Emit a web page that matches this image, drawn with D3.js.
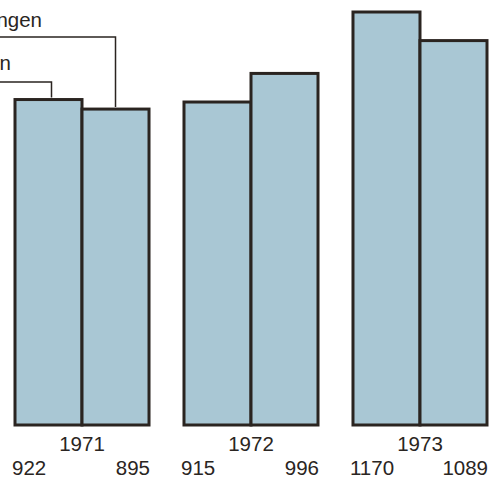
<!DOCTYPE html>
<html>
<head>
<meta charset="utf-8">
<script src="https://cdn.jsdelivr.net/npm/d3@7"></script>
<style>
  html, body { margin: 0; padding: 0; background: #ffffff; }
  svg { display: block; }
  text { font-family: "Liberation Sans", Arial, Helvetica, sans-serif; fill: #2a2522; }
</style>
</head>
<body>
<svg id="chart" width="490" height="480"></svg>
<script>
// Yearly totals, two series per year
const years = ["1971", "1972", "1973"];
const seriesNames = ["Einnahmen", "Aufwendungen"];
const einnahmen = [922, 915, 1170];
const aufwendungen = [895, 996, 1089];

const W = 490, H = 480;
const fontSize = 20.5;
const svg = d3.select("#chart");

const x = d3.scaleBand().domain(years).range([15, 487]).paddingInner(0.207).paddingOuter(0);
const xs = d3.scaleBand().domain(seriesNames).range([0, x.bandwidth()]).padding(0);
const y = d3.scaleLinear().domain([0, 1170]).range([425, 12]);

const rows = years.map((yr, i) => ({
  year: yr,
  values: [
    { key: seriesNames[0], value: einnahmen[i] },
    { key: seriesNames[1], value: aufwendungen[i] }
  ]
}));

const fill = "#a9c7d4";
const edge = "#2a2420";

// Bars
const g = svg.selectAll("g.year").data(rows).join("g")
  .attr("class", "year")
  .attr("transform", d => `translate(${x(d.year)},0)`);

g.selectAll("rect").data(d => d.values).join("rect")
  .attr("x", d => xs(d.key))
  .attr("y", d => y(d.value))
  .attr("width", xs.bandwidth())
  .attr("height", d => y(0) - y(d.value))
  .attr("fill", fill)
  .attr("stroke", edge)
  .attr("stroke-width", 3)
  .attr("stroke-linejoin", "miter");

// Year labels
g.append("text")
  .attr("x", x.bandwidth() / 2)
  .attr("y", 451)
  .attr("text-anchor", "middle")
  .attr("font-size", fontSize)
  .text(d => d.year);

// Value labels: first series flush left, second flush right
g.append("text")
  .attr("x", -3)
  .attr("y", 475)
  .attr("text-anchor", "start")
  .attr("font-size", fontSize)
  .text(d => d.values[0].value);

g.append("text")
  .attr("x", x.bandwidth() + 1)
  .attr("y", 475)
  .attr("text-anchor", "end")
  .attr("font-size", fontSize)
  .text(d => d.values[1].value);

// Series captions with leader lines down to the first year's bars
const first = rows[0];
const legend = [
  { name: seriesNames[1], textY: 27, endX: 42, lineY: 37, value: first.values[1].value, dx: 0 },
  { name: seriesNames[0], textY: 70, endX: 11, lineY: 82, value: first.values[0].value, dx: 3 }
];

const lg = svg.append("g");
legend.forEach(l => {
  const lx = x(first.year) + xs(l.name) + xs.bandwidth() / 2 + l.dx;
  lg.append("text")
    .attr("x", l.endX)
    .attr("y", l.textY)
    .attr("text-anchor", "end")
    .attr("font-size", fontSize)
    .text(l.name);
  lg.append("path")
    .attr("d", d3.line()([[-5, l.lineY], [lx, l.lineY], [lx, y(l.value) - 2]]))
    .attr("fill", "none")
    .attr("stroke", edge)
    .attr("stroke-width", 1.5);
});
</script>
</body>
</html>
